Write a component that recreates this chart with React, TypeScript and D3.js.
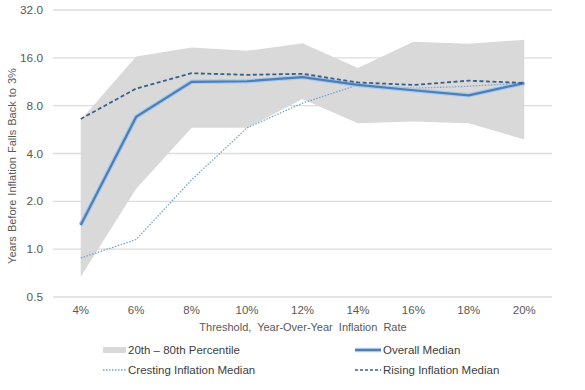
import * as d3 from 'd3'
import React, { useEffect, useRef } from 'react'

const categories = ['4%', '6%', '8%', '10%', '12%', '14%', '16%', '18%', '20%']
const bandLow = [0.67, 2.4, 5.8, 5.8, 8.8, 6.2, 6.35, 6.2, 4.9]
const bandHigh = [6.5, 16.3, 18.6, 17.7, 19.8, 13.8, 20.2, 19.6, 20.8]
const overallMedian = [1.42, 6.8, 11.3, 11.4, 12.1, 10.8, 10.0, 9.3, 11.1]
const risingMedian = [6.6, 10.25, 12.8, 12.5, 12.7, 11.2, 10.8, 11.5, 11.1]
const crestingMedian = [0.88, 1.15, 2.73, 5.8, 8.3, 10.8, 10.3, 10.6, 11.1]
const yTicks = [0.5, 1, 2, 4, 8, 16, 32]

const App = (): JSX.Element => {
    const ref = useRef<SVGSVGElement>(null)

    useEffect(() => {
        const width = 585
        const height = 390
        const left = 53
        const right = 552
        const top = 10
        const bottom = 297
        const font = '"Liberation Sans", Arial, sans-serif'
        const textColor = '#595959'

        const svg = d3.select(ref.current)
        svg.selectAll('*').remove()
        svg.attr('width', width).attr('height', height)

        const x = d3.scaleBand().domain(categories).range([left, right])
        const cx = (i: number) => (x(categories[i]) as number) + x.bandwidth() / 2
        const y = d3.scaleLog().base(2).domain([0.5, 32]).range([bottom, top])

        // gridlines
        svg.append('g')
            .selectAll('line')
            .data(yTicks)
            .enter()
            .append('line')
            .attr('x1', left)
            .attr('x2', right)
            .attr('y1', (d) => y(d))
            .attr('y2', (d) => y(d))
            .style('stroke', '#dcdcdc')
            .style('stroke-width', 1.3)

        // percentile band
        const area = d3
            .area<number>()
            .x((d, i) => cx(i))
            .y0((d, i) => y(bandLow[i]))
            .y1((d, i) => y(bandHigh[i]))
        svg.append('path').datum(categories.map((c, i) => i)).attr('d', area).style('fill', '#d9d9d9')

        const line = (vals: number[]) =>
            d3
                .line<number>()
                .x((d, i) => cx(i))
                .y((d) => y(d))(vals)

        svg.append('path')
            .attr('d', line(crestingMedian))
            .style('fill', 'none')
            .style('stroke', '#7aa3c8')
            .style('stroke-width', 1.3)
            .style('stroke-dasharray', '1.5,1.5')

        // overall median: light halo with darker core
        svg.append('path')
            .attr('d', line(overallMedian))
            .style('fill', 'none')
            .style('stroke', '#a8c9ea')
            .style('stroke-width', 4.5)
        svg.append('path')
            .attr('d', line(overallMedian))
            .style('fill', 'none')
            .style('stroke', '#4d7fb6')
            .style('stroke-width', 2.2)

        svg.append('path')
            .attr('d', line(risingMedian))
            .style('fill', 'none')
            .style('stroke', '#3c5f86')
            .style('stroke-width', 1.8)
            .style('stroke-dasharray', '4,2.5')

        // y tick labels
        svg.append('g')
            .selectAll('text')
            .data(yTicks)
            .enter()
            .append('text')
            .attr('x', 43)
            .attr('y', (d) => y(d) + 4)
            .attr('text-anchor', 'end')
            .style('font-family', font)
            .style('font-size', '11.8px')
            .style('fill', textColor)
            .text((d) => d.toFixed(1))

        // x tick labels
        svg.append('g')
            .selectAll('text')
            .data(categories)
            .enter()
            .append('text')
            .attr('x', (d, i) => cx(i))
            .attr('y', 314)
            .attr('text-anchor', 'middle')
            .style('font-family', font)
            .style('font-size', '11.5px')
            .style('fill', textColor)
            .text((d) => d)

        svg.append('text')
            .attr('x', 303)
            .attr('y', 331)
            .attr('text-anchor', 'middle')
            .style('font-family', font)
            .style('font-size', '11px')
            .style('word-spacing', '3px')
            .style('fill', textColor)
            .text('Threshold, Year-Over-Year Inflation Rate')

        svg.append('text')
            .attr('transform', `translate(16,${166}) rotate(-90)`)
            .attr('text-anchor', 'middle')
            .style('font-family', font)
            .style('font-size', '11px')
            .style('word-spacing', '1px')
            .style('fill', textColor)
            .text('Years Before Inflation Falls Back to 3%')

        // legend
        const legend = [
            { label: '20th – 80th Percentile', x: 103, y: 350, kind: 'band' },
            { label: 'Cresting Inflation Median', x: 103, y: 370, kind: 'cresting' },
            { label: 'Overall Median', x: 355, y: 350, kind: 'overall' },
            { label: 'Rising Inflation Median', x: 355, y: 370, kind: 'rising' },
        ]
        const lg = svg.selectAll('g.legend').data(legend).enter().append('g').attr('class', 'legend')
        lg.each(function (d) {
            const g = d3.select(this)
            const sw = d.kind === 'band' || d.kind === 'cresting' ? 23 : 26
            if (d.kind === 'band') {
                g.append('rect').attr('x', d.x).attr('y', d.y - 3).attr('width', sw).attr('height', 6).style('fill', '#d9d9d9')
            } else if (d.kind === 'cresting') {
                g.append('line').attr('x1', d.x).attr('x2', d.x + sw).attr('y1', d.y).attr('y2', d.y)
                    .style('stroke', '#7aa3c8').style('stroke-width', 1.3).style('stroke-dasharray', '1.5,1.5')
            } else if (d.kind === 'overall') {
                g.append('line').attr('x1', d.x).attr('x2', d.x + sw).attr('y1', d.y).attr('y2', d.y)
                    .style('stroke', '#a8c9ea').style('stroke-width', 4.5)
                g.append('line').attr('x1', d.x).attr('x2', d.x + sw).attr('y1', d.y).attr('y2', d.y)
                    .style('stroke', '#4d7fb6').style('stroke-width', 2)
            } else {
                g.append('line').attr('x1', d.x).attr('x2', d.x + sw).attr('y1', d.y).attr('y2', d.y)
                    .style('stroke', '#3c5f86').style('stroke-width', 1.5).style('stroke-dasharray', '3,2')
            }
            g.append('text')
                .attr('x', d.x + sw + 2)
                .attr('y', d.y + 4)
                .style('font-family', font)
                .style('font-size', '11.5px')
                .style('fill', '#404040')
                .text(d.label)
        })
    }, [])

    return (
        <div style={{ position: 'absolute', left: 0, top: 0 }}>
            <svg ref={ref} style={{ display: 'block', background: '#fff' }} />
        </div>
    )
}

export default App
